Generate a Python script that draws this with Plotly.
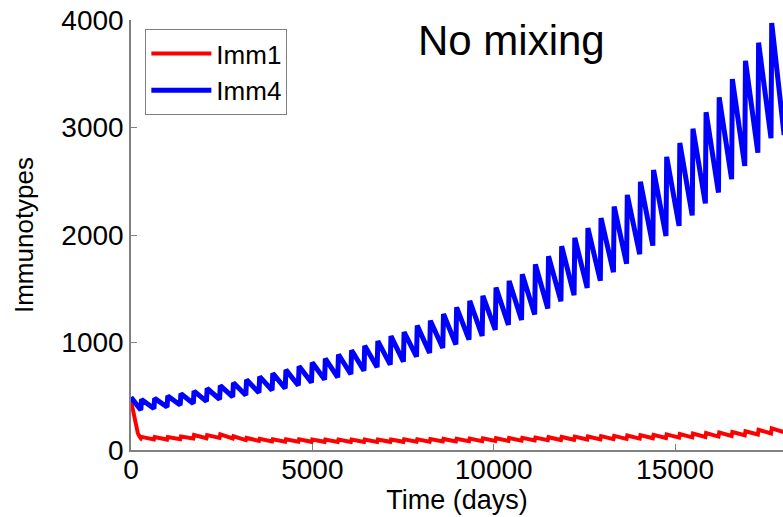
import plotly.graph_objects as go

# ---- data ----
pulse_days = [290, 652, 1014, 1376, 1738, 2100, 2462, 2824, 3186, 3548,
              3910, 4272, 4634, 4996, 5358, 5720, 6082, 6444, 6806, 7168,
              7530, 7892, 8254, 8616, 8978, 9340, 9702, 10064, 10426, 10788,
              11150, 11512, 11874, 12236, 12598, 12960, 13322, 13684, 14046, 14408,
              14770, 15132, 15494, 15856, 16218, 16580, 16942, 17304, 17666]

imm4_pre = [372, 385, 400, 418, 433, 452, 472, 494, 510, 533,
            556, 574, 600, 627, 655, 675, 705, 737, 770, 794,
            822, 868, 902, 949, 982, 1027, 1061, 1118, 1164, 1209,
            1261, 1316, 1384, 1440, 1507, 1575, 1653, 1732, 1822, 1901,
            1991, 2085, 2182, 2294, 2395, 2519, 2643, 2766, 2900]
imm4_peak = [470, 480, 502, 524, 548, 572, 598, 625, 653, 683,
             713, 745, 779, 814, 850, 888, 928, 970, 1013, 1059,
             1096, 1157, 1203, 1265, 1327, 1388, 1434, 1511, 1573, 1634,
             1727, 1803, 1896, 1973, 2065, 2158, 2265, 2373, 2496, 2604,
             2727, 2856, 2989, 3142, 3281, 3450, 3620, 3789, 3973]

imm1_pre = [110, 98, 97, 100, 108, 110, 112, 108, 92, 85,
            80, 78, 77, 76, 76, 75, 75, 75, 75, 76,
            76, 77, 78, 79, 80, 81, 82, 84, 85, 87,
            89, 91, 93, 95, 97, 99, 101, 104, 106, 109,
            112, 115, 118, 121, 125, 130, 137, 145, 155]
imm1_peak = [122, 120, 120, 125, 140, 138, 145, 128, 112, 105,
             100, 100, 99, 98, 98, 97, 97, 97, 98, 98,
             99, 100, 101, 103, 104, 106, 108, 110, 112, 114,
             116, 119, 121, 124, 126, 129, 132, 135, 138, 141,
             145, 149, 153, 157, 162, 167, 175, 188, 202]

imm4_start_days = [0]
imm4_start_vals = [490]
imm1_start_days = [0, 60, 120, 190, 250]
imm1_start_vals = [460, 360, 250, 155, 118]
end_day = 18008
imm4_end = 2930
imm1_end = 165
rise_days = 20

x_ticks = [0, 5000, 10000, 15000]
x_tick_labels = ["0", "5000", "10000", "15000"]
y_ticks = [0, 1000, 2000, 3000, 4000]
y_tick_labels = ["0", "1000", "2000", "3000", "4000"]


def build(start_d, start_v, pre, peak, end_v):
    t = list(start_d)
    v = list(start_v)
    for d, lo, hi in zip(pulse_days, pre, peak):
        t += [d - rise_days, d]
        v += [lo, hi]
    t.append(end_day)
    v.append(end_v)
    return t, v


t1, v1 = build(imm1_start_days, imm1_start_vals, imm1_pre, imm1_peak, imm1_end)
t4, v4 = build(imm4_start_days, imm4_start_vals, imm4_pre, imm4_peak, imm4_end)

fig = go.Figure()
fig.add_trace(go.Scatter(x=t1, y=v1, mode="lines", name="Imm1",
                         line=dict(color="#FF0000", width=4)))
fig.add_trace(go.Scatter(x=t4, y=v4, mode="lines", name="Imm4",
                         line=dict(color="#0000FF", width=5)))

font_family = "Liberation Sans, Arial, sans-serif"
axis_common = dict(showline=True, linecolor="#808080", linewidth=1.5,
                   ticks="inside", ticklen=6, tickcolor="#808080",
                   showgrid=False, zeroline=False,
                   tickfont=dict(family=font_family, size=28, color="black"))

fig.update_layout(
    width=783, height=517,
    margin=dict(l=131, r=0, t=20, b=67),
    paper_bgcolor="white", plot_bgcolor="white",
    xaxis=dict(range=[0, 17977], tickvals=x_ticks, ticktext=x_tick_labels,
               ticklabelstandoff=-6,
               title=dict(text="Time (days)", standoff=0,
                          font=dict(family=font_family, size=27, color="black")),
               **axis_common),
    yaxis=dict(range=[0, 4000], tickvals=y_ticks, ticktext=y_tick_labels,
               title=dict(text="Immunotypes", standoff=20,
                          font=dict(family=font_family, size=26, color="black")),
               **axis_common),
    legend=dict(x=0.022, y=0.979, xanchor="left", yanchor="top",
                bgcolor="white", bordercolor="#808080", borderwidth=1,
                font=dict(family=font_family, size=26, color="black"),
                itemwidth=60, tracegroupgap=0),
    annotations=[dict(x=10500, y=3810, xref="x", yref="y", text="No mixing",
                      showarrow=False, xanchor="center", yanchor="middle",
                      font=dict(family=font_family, size=42, color="black"))],
    showlegend=True,
)

fig.write_html("out.html")
